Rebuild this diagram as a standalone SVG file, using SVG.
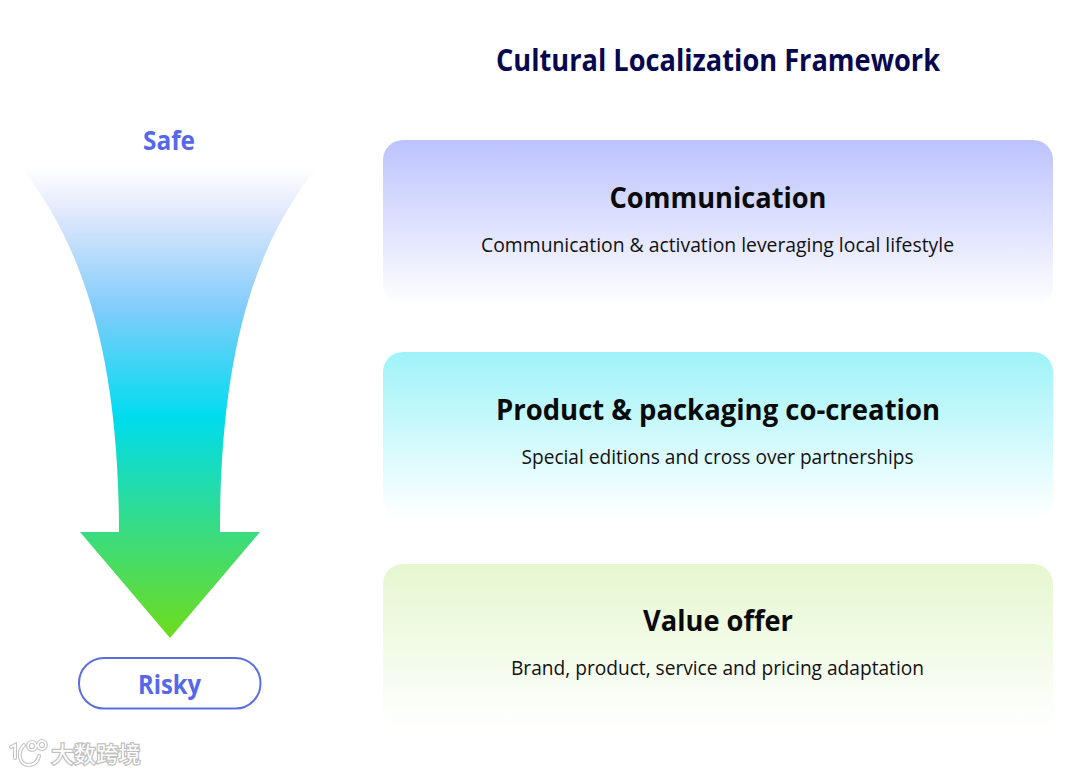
<svg xmlns="http://www.w3.org/2000/svg" width="1080" height="774" viewBox="0 0 1080 774">
<style>
text{font-family:"Open Sans","Noto Sans","Liberation Sans",sans-serif;text-anchor:middle}
.h{font-size:29px;font-weight:700;fill:#0a0a0a}
.s{font-size:19.5px;fill:#111}
.lab{font-size:27px;font-weight:700;fill:#5468ea}
.card{stroke:none}
</style>
<defs>
<linearGradient id="gA" gradientUnits="userSpaceOnUse" x1="0" y1="168" x2="0" y2="638">
<stop offset="0" stop-color="#fff"/><stop offset="0.1" stop-color="#dfe7fc"/><stop offset="0.3" stop-color="#80ccfb"/><stop offset="0.53" stop-color="#00dcee"/><stop offset="1" stop-color="#6edc1c"/>
</linearGradient>
<linearGradient id="g1" x1="0" y1="0" x2="0" y2="1"><stop offset="0" stop-color="#bcc3fd"/><stop offset="1" stop-color="#fff"/></linearGradient>
<linearGradient id="g2" x1="0" y1="0" x2="0" y2="1"><stop offset="0" stop-color="#9ef3f8"/><stop offset="1" stop-color="#fff"/></linearGradient>
<linearGradient id="g3" x1="0" y1="0" x2="0" y2="1"><stop offset="0" stop-color="#e5f7cf"/><stop offset="1" stop-color="#fff"/></linearGradient>
</defs>
<rect width="1080" height="774" fill="#fff"/>
<text id="title" x="718" y="71" font-size="30" font-weight="700" style="fill:#07074f" textLength="444" lengthAdjust="spacingAndGlyphs">Cultural Localization Framework</text>
<g id="safe"><text class="lab" x="169" y="150" textLength="52" lengthAdjust="spacingAndGlyphs">Safe</text></g>
<g id="arrow"><path d="M20 166H318C258 240 220 345 220 532H260L170 638L80 532H119C119 345 78 238 20 166Z" fill="url(#gA)"/></g>
<g id="risky"><rect x="79" y="658" width="181.500" height="50.5" rx="25" fill="#fff" stroke="#5a6ee0" stroke-width="2"/>
<text class="lab" x="169.500" y="694" textLength="63" lengthAdjust="spacingAndGlyphs">Risky</text></g>
<g id="communication"><rect class="card" x="383" y="140" width="670" height="166" rx="20" fill="url(#g1)"/>
<text class="h" x="718" y="208" textLength="217" lengthAdjust="spacingAndGlyphs">Communication</text>
<text class="s" x="717.500" y="252" textLength="473" lengthAdjust="spacingAndGlyphs">Communication &amp; activation leveraging local lifestyle</text></g>
<g id="product"><rect class="card" x="383" y="352" width="670" height="166" rx="20" fill="url(#g2)"/>
<text class="h" x="718" y="420" textLength="444" lengthAdjust="spacingAndGlyphs">Product &amp; packaging co-creation</text>
<text class="s" x="717.500" y="464" textLength="392" lengthAdjust="spacingAndGlyphs">Special editions and cross over partnerships</text></g>
<g id="value"><rect class="card" x="383" y="564" width="670" height="166" rx="20" fill="url(#g3)"/>
<text class="h" x="718" y="631" textLength="150" lengthAdjust="spacingAndGlyphs">Value offer</text>
<text class="s" x="717.500" y="675" textLength="413" lengthAdjust="spacingAndGlyphs">Brand, product, service and pricing adaptation</text></g>
<g id="watermark" fill="none">
<g stroke="#c4c4c4" stroke-width="4" stroke-linecap="round"><path d="M11 747L15 745V758"/><path d="M24 745C17 752 19 764 28 765C35 765 38 761 39 756"/><circle cx="32" cy="746" r="4"/><circle cx="42" cy="745" r="4"/></g>
<g stroke="#fff" stroke-width="1.800" stroke-linecap="round"><path d="M11 747L15 745V758"/><path d="M24 745C17 752 19 764 28 765C35 765 38 761 39 756"/><circle cx="32" cy="746" r="4"/><circle cx="42" cy="745" r="4"/></g>
<text x="96" y="762" font-size="22" style="font-family:'Noto Sans CJK SC',sans-serif;fill:#fff;stroke:#c0c0c0;stroke-width:2.500;paint-order:stroke" textLength="89">大数跨境</text>
</g>
</svg>
